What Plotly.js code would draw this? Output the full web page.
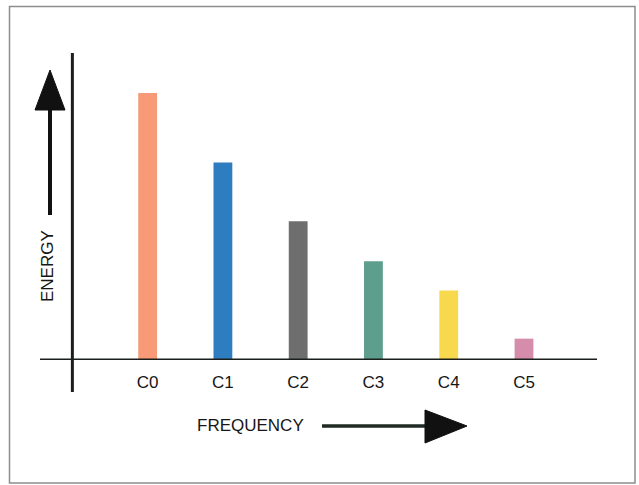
<!DOCTYPE html>
<html>
<head>
<meta charset="utf-8">
<script src="https://cdn.plot.ly/plotly-3.0.1.min.js"></script>
<style>html,body{margin:0;padding:0;background:#fff;}#chart{width:639px;height:485px;}</style>
</head>
<body>
<div id="chart"></div>
<script>
// Data
var categories = ["C0", "C1", "C2", "C3", "C4", "C5"];
var energy = [100, 74, 52, 37, 26, 8];
var barColors = ["#F89A78", "#2E7DC1", "#6E6E6E", "#5E9E8C", "#F8D84C", "#D68CAB"];
var xTitle = "FREQUENCY";
var yTitle = "ENERGY";

// Layout geometry (pixels)
var W = 639, H = 485;
var L = 40, R = 597, T = 53, B = 360;
function px(x) { return (x - L) / (R - L); }
function py(y) { return (B - y) / (B - T); }

var ink = "#1b1f1c";
var font = "Liberation Sans, Arial, Helvetica, sans-serif";
var textColor = "#161616";

var shapes = [
  // outer frame
  {type: "rect", xref: "paper", yref: "paper", x0: px(9.5), x1: px(635), y0: py(6.5), y1: py(483),
   line: {color: "#8a8f8c", width: 1.5}, layer: "below"},
  // horizontal axis line
  {type: "line", xref: "paper", yref: "y", x0: 0, x1: 1, y0: 0, y1: 0,
   line: {color: ink, width: 3}},
  // vertical axis line
  {type: "line", xref: "x", yref: "paper", x0: -1, x1: -1, y0: py(392), y1: 1,
   line: {color: ink, width: 3}},
  // up arrow shaft
  {type: "line", xref: "paper", yref: "paper", x0: px(50), x1: px(50), y0: py(215), y1: py(105),
   line: {color: "#111", width: 4}},
  // up arrow head
  {type: "path", xref: "paper", yref: "paper",
   path: "M " + px(35) + "," + py(110) + " L " + px(50) + "," + py(70) + " L " + px(65) + "," + py(110) + " Z",
   fillcolor: "#111", line: {color: "#111", width: 1}},
  // right arrow shaft
  {type: "line", xref: "paper", yref: "paper", x0: px(322), x1: px(430), y0: py(426), y1: py(426),
   line: {color: "#1f2a24", width: 3.5}},
  // right arrow head
  {type: "path", xref: "paper", yref: "paper",
   path: "M " + px(425) + "," + py(410) + " L " + px(467) + "," + py(426) + " L " + px(425) + "," + py(443) + " Z",
   fillcolor: "#111", line: {color: "#111", width: 1}}
];

var data = [{
  type: "bar",
  x: categories,
  y: energy,
  marker: {color: barColors, line: {width: 0}},
  width: 0.25,
  hoverinfo: "x+y"
}];

var layout = {
  width: W, height: H,
  margin: {l: L, r: W - R, t: T, b: H - B, pad: 0},
  paper_bgcolor: "#ffffff",
  plot_bgcolor: "rgba(0,0,0,0)",
  showlegend: false,
  font: {family: font, color: textColor, size: 17},
  xaxis: {
    type: "category",
    range: [-1.43, 5.97],
    showgrid: false, zeroline: false, showline: false,
    ticks: "outside", ticklen: 7, tickcolor: "rgba(0,0,0,0)",
    tickfont: {family: font, size: 17, color: textColor},
    fixedrange: true
  },
  yaxis: {
    range: [0, 115],
    showgrid: false, zeroline: false, showline: false,
    showticklabels: false, ticks: "",
    fixedrange: true
  },
  shapes: shapes,
  annotations: [
    {xref: "paper", yref: "paper", x: px(250), y: py(425), text: xTitle, showarrow: false,
     xanchor: "center", yanchor: "middle", font: {family: font, size: 17, color: textColor}},
    {xref: "paper", yref: "paper", x: px(47), y: py(266), text: yTitle, showarrow: false, textangle: -90,
     xanchor: "center", yanchor: "middle", font: {family: font, size: 17, color: textColor}}
  ]
};

Plotly.newPlot("chart", data, layout, {displayModeBar: false, staticPlot: true});
</script>
</body>
</html>
